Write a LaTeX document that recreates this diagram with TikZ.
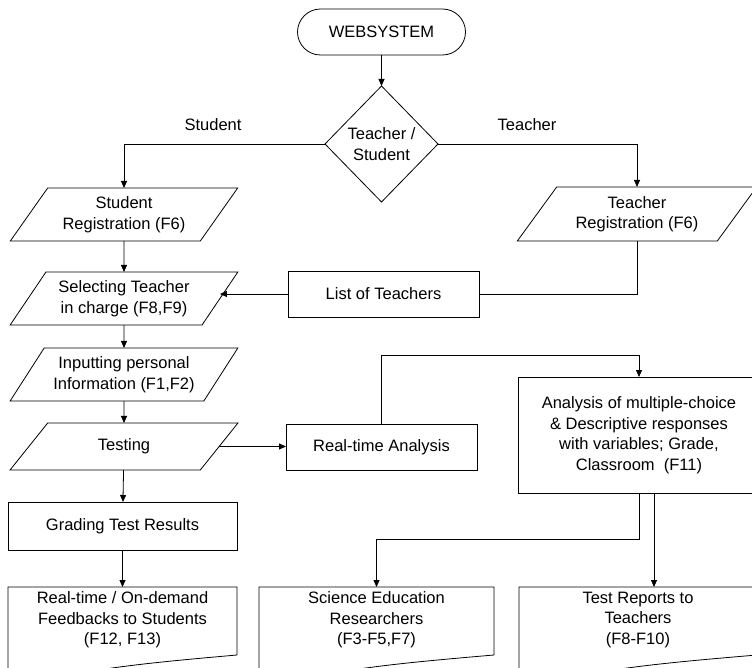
\documentclass[tikz,border=0pt]{standalone}
\usepackage{fontspec}
\setmainfont{Liberation Sans}
\usetikzlibrary{shapes.geometric,arrows.meta,calc}
\begin{document}
\begin{tikzpicture}[x=1pt,y=-1pt,
  every node/.style={font=\fontsize{16.5}{20.5}\selectfont, align=center, inner sep=0pt, outer sep=0pt},
  line/.style={line width=0.8pt},
  arr/.style={line, -{Triangle[length=7pt,width=6pt]}},
  boxnode/.style={draw, line width=0.8pt, rectangle},
  para/.style={draw, line width=0.8pt, trapezium, trapezium left angle=50, trapezium right angle=130, trapezium stretches=true},
  docnode/.style={rectangle, minimum height=66},
  term/.style={draw, line width=0.8pt, rectangle, rounded corners=23, minimum width=168, minimum height=46},
  dec/.style={draw, line width=0.8pt, diamond, minimum width=113, minimum height=116}
]
\useasboundingbox (0,0) rectangle (752,668);
\clip (0,0) rectangle (752,668);

% nodes
\node[term] (ws) at (381.5,32) {WEBSYSTEM};
\node[dec] (dm) at (381.5,144) {Teacher /\\Student};
\node (lst) at (213,125) {Student};
\node (ltc) at (527,125) {Teacher};

\node[para, minimum width=228, minimum height=53] (sr) at (124,214.5) {Student\\Registration (F6)};
\node[para, minimum width=228, minimum height=53] (st) at (124,298.5) {Selecting Teacher\\in charge (F8,F9)};
\node[para, minimum width=228, minimum height=53] (ip) at (124,374.5) {Inputting personal\\Information (F1,F2)};
\node[para, minimum width=228, minimum height=47] (te) at (124,446.5) {Testing};
\node[boxnode, minimum width=229, minimum height=48] (gr) at (122.5,526) {Grading Test Results};

\node[para, minimum width=240, minimum height=54] (tr) at (637,214) {Teacher\\Registration (F6)};
\node[boxnode, minimum width=191, minimum height=46] (lt) at (383.5,294) {List of Teachers};
\node[boxnode, minimum width=191, minimum height=46] (rt) at (381.5,447) {Real-time Analysis};
\node[boxnode, minimum width=242, minimum height=116] (an) at (639,435) {Analysis of multiple-choice\\\& Descriptive responses\\with variables; Grade,\\Classroom~~(F11)};

\node[docnode, minimum width=229] (fb) at (122.5,620) {Real-time / On-demand\\Feedbacks to Students\\(F12, F13)};
\node[docnode, minimum width=235] (sci) at (376.5,620) {Science Education\\Researchers\\(F3-F5,F7)};
\node[docnode, minimum width=238] (trp) at (638,620) {Test Reports to\\Teachers\\(F8-F10)};

% document outlines
\foreach \d in {fb,sci,trp}{
  \draw[line] (\d.north west) -- (\d.north east) -- ($(\d.north east)+(0,68)$)
    .. controls ($(\d.north east)!0.45!(\d.north west)+(0,77)$) and ($(\d.north east)!0.7!(\d.north west)+(0,83)$)
    .. ($(\d.north west)+(0,103)$) -- cycle;
}

% connectors
\draw[arr] (ws) -- (dm);
\draw[arr] (dm.west) -| (sr.north);
\draw[arr] (dm.east) -| (tr.north);
\draw[arr] (sr) -- (st);
\draw[arr] (st) -- (ip);
\draw[arr] (ip) -- (te);
\draw[arr] (te) -- (gr);
\draw[arr] (gr) -- (fb);
\draw[line] (tr.south) |- (lt.east);
\draw[arr] (lt.west) -- (lt.west -| st.east);
\draw[arr] (te.east) -- (te.east -| rt.west);
\draw[arr] (rt.north) |- ($(an.north)+(0,-22)$) -- (an.north);
\coordinate (j1) at ($(an.south)+(0,46)$);
\draw[arr] (an.south) -- (j1) -| (sci.north);
\draw[arr] ([xshift=15]an.south) -- ([xshift=15]an.south |- trp.north);
\end{tikzpicture}
\end{document}
